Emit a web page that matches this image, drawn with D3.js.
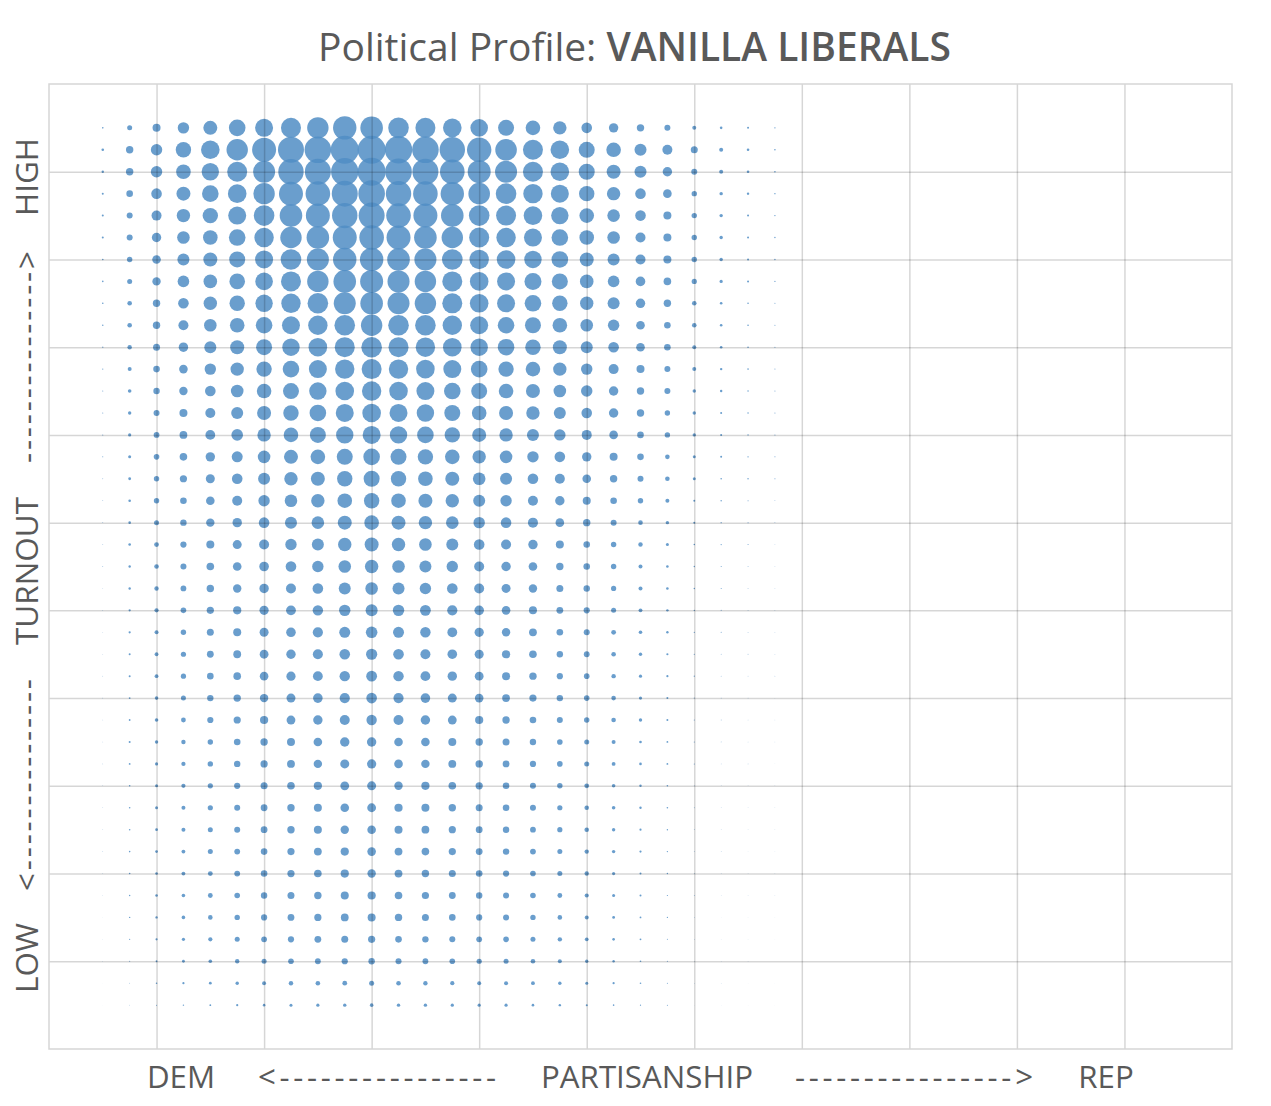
<!DOCTYPE html>
<html>
<head>
<meta charset="utf-8">
<script src="https://cdn.jsdelivr.net/npm/d3@7"></script>
<style>
  body { margin: 0; background: #fff; }
  text { font-family: "Open Sans", "Noto Sans", sans-serif; fill: #595959; }
</style>
</head>
<body>
<div id="chart"></div>
<script>
// ---- data ----
const titleLead = "Political Profile: ";
const titleSegment = "VANILLA LIBERALS";

const xAxisLabels = ["DEM", "<----------------", "PARTISANSHIP", "---------------->", "REP"];
const yAxisLabels = ["LOW", "<---------------", "TURNOUT", "--------------->", "HIGH"];

// partisanship bins, left (dem) to right (rep)
const partisanshipBins = [1, 2, 3, 4, 5, 6, 7, 8, 9, 10, 11, 12, 13, 14, 15, 16, 17, 18, 19, 20,
    21, 22, 23, 24, 25, 26, 27, 28, 29, 30, 31, 32, 33, 34, 35, 36, 37, 38, 39, 40, 41];
// turnout bins, top (high) to bottom (low)
const turnoutBins = [41, 40, 39, 38, 37, 36, 35, 34, 33, 32, 31, 30, 29, 28, 27, 26, 25, 24, 23, 22,
    21, 20, 19, 18, 17, 16, 15, 14, 13, 12, 11, 10, 9, 8, 7, 6, 5, 4, 3, 2, 1];
const gridBins = [3, 7, 11, 15, 19, 23, 27, 31, 35, 39];

// dot weight per cell, one row per turnout bin (top first), columns = partisanship bins 1..26
// (bins 27..41 are empty)
const density = [
    [8, 25, 40, 57, 70, 83, 90, 100, 107, 117, 113, 103, 100, 93, 88, 80, 73, 67, 53, 47, 37, 30, 20, 13, 10, 7],
    [13, 37, 57, 77, 93, 107, 120, 130, 133, 140, 140, 137, 133, 127, 122, 108, 100, 93, 80, 73, 60, 50, 35, 20, 13, 8],
    [12, 37, 57, 73, 87, 100, 110, 127, 130, 137, 140, 133, 130, 123, 115, 110, 100, 93, 80, 70, 60, 47, 30, 20, 13, 8],
    [10, 33, 53, 70, 83, 93, 107, 120, 123, 130, 133, 127, 123, 117, 108, 103, 97, 90, 77, 67, 53, 43, 27, 17, 12, 7],
    [10, 30, 50, 67, 77, 90, 103, 113, 120, 127, 130, 123, 120, 113, 103, 100, 93, 87, 73, 63, 53, 40, 27, 17, 10, 7],
    [10, 30, 47, 63, 73, 83, 97, 107, 113, 120, 123, 120, 113, 107, 100, 97, 90, 83, 73, 63, 50, 40, 27, 17, 10, 7],
    [8, 27, 43, 60, 70, 80, 90, 103, 110, 117, 117, 113, 110, 103, 97, 93, 87, 83, 70, 60, 50, 40, 27, 17, 10, 7],
    [8, 25, 42, 58, 68, 78, 88, 100, 107, 113, 115, 110, 107, 100, 93, 90, 85, 80, 68, 58, 48, 38, 26, 16, 10, 6],
    [8, 23, 37, 53, 67, 77, 87, 97, 103, 110, 113, 110, 107, 100, 93, 90, 83, 77, 67, 60, 47, 37, 23, 13, 8, 5],
    [7, 23, 37, 50, 63, 73, 83, 90, 97, 103, 107, 103, 103, 97, 90, 83, 80, 73, 63, 57, 43, 33, 23, 13, 8, 5],
    [6, 22, 35, 47, 60, 70, 80, 87, 93, 100, 103, 100, 97, 93, 87, 83, 77, 70, 60, 53, 43, 33, 20, 13, 8, 5],
    [6, 20, 33, 43, 57, 67, 77, 83, 90, 97, 100, 97, 93, 90, 83, 77, 73, 67, 57, 50, 40, 30, 20, 12, 8, 5],
    [5, 18, 32, 42, 53, 63, 73, 80, 87, 93, 97, 93, 90, 83, 80, 73, 70, 63, 57, 47, 37, 30, 17, 12, 7, 5],
    [5, 17, 30, 40, 50, 60, 70, 77, 83, 90, 93, 90, 87, 80, 73, 70, 67, 60, 53, 47, 37, 27, 17, 10, 7, 5],
    [5, 16, 29, 39, 49, 58, 67, 73, 80, 87, 90, 87, 83, 77, 70, 67, 60, 57, 50, 43, 33, 27, 17, 10, 7, 5],
    [5, 15, 28, 38, 47, 55, 63, 70, 73, 80, 83, 80, 77, 73, 67, 63, 57, 53, 47, 40, 33, 23, 15, 10, 7, 5],
    [4, 14, 27, 36, 45, 53, 60, 67, 70, 77, 80, 77, 73, 70, 63, 60, 53, 50, 43, 37, 30, 23, 15, 8, 7, 5],
    [4, 13, 27, 33, 43, 50, 57, 63, 67, 73, 77, 73, 70, 67, 60, 57, 50, 47, 40, 33, 27, 20, 10, 7, 5, 4],
    [4, 13, 25, 32, 42, 47, 53, 60, 63, 70, 73, 70, 67, 63, 57, 53, 50, 43, 37, 30, 23, 17, 10, 6, 5, 4],
    [4, 13, 24, 31, 40, 45, 50, 57, 60, 67, 70, 67, 63, 60, 53, 50, 47, 40, 33, 27, 22, 15, 8, 6, 5, 3],
    [4, 12, 23, 30, 38, 43, 48, 53, 57, 63, 67, 63, 60, 57, 50, 47, 43, 37, 33, 27, 20, 13, 7, 5, 4, 3],
    [3, 12, 22, 29, 37, 42, 47, 50, 53, 60, 63, 60, 57, 53, 50, 45, 42, 35, 32, 26, 20, 13, 7, 5, 4, 3],
    [3, 11, 21, 28, 36, 41, 46, 49, 52, 57, 60, 57, 54, 51, 48, 43, 40, 34, 31, 25, 19, 12, 7, 5, 4, 3],
    [3, 11, 20, 27, 35, 40, 45, 48, 51, 55, 58, 55, 52, 49, 46, 42, 39, 33, 30, 24, 18, 12, 6, 5, 4, 3],
    [3, 10, 19, 26, 34, 39, 44, 47, 50, 53, 56, 53, 50, 48, 45, 41, 38, 32, 29, 23, 17, 11, 6, 4, 4, 3],
    [3, 10, 19, 26, 33, 38, 43, 46, 49, 52, 54, 52, 49, 47, 44, 40, 37, 31, 28, 22, 16, 11, 6, 4, 3, 3],
    [3, 9, 18, 25, 32, 37, 42, 45, 48, 51, 53, 51, 48, 45, 43, 39, 36, 32, 28, 23, 16, 10, 5, 4, 3, 2],
    [3, 9, 18, 24, 31, 36, 41, 44, 47, 50, 52, 50, 47, 44, 41, 37, 33, 30, 27, 23, 17, 10, 5, 4, 3, 2],
    [3, 10, 17, 22, 27, 33, 37, 40, 43, 47, 47, 43, 43, 40, 37, 35, 32, 28, 25, 20, 13, 9, 5, 4, 3, 2],
    [3, 9, 16, 21, 27, 32, 36, 39, 42, 45, 46, 43, 42, 39, 37, 34, 31, 28, 25, 19, 13, 9, 5, 3, 3, 2],
    [3, 8, 15, 21, 26, 31, 35, 38, 41, 44, 45, 42, 41, 38, 36, 33, 30, 27, 24, 18, 12, 8, 4, 3, 2, 2],
    [3, 8, 15, 20, 26, 30, 34, 37, 40, 43, 44, 41, 40, 37, 35, 33, 30, 26, 23, 18, 12, 8, 4, 3, 2, 2],
    [3, 8, 14, 20, 25, 30, 34, 37, 40, 42, 43, 40, 39, 36, 34, 32, 29, 26, 23, 17, 11, 7, 4, 3, 2, 2],
    [3, 8, 14, 19, 25, 29, 33, 36, 39, 41, 43, 39, 38, 36, 34, 32, 29, 25, 22, 17, 11, 7, 4, 3, 2, 2],
    [3, 8, 13, 19, 24, 29, 33, 36, 38, 41, 42, 39, 37, 35, 33, 31, 28, 25, 22, 16, 10, 7, 4, 3, 2, 2],
    [2, 7, 13, 18, 24, 28, 32, 35, 37, 40, 41, 38, 36, 34, 32, 30, 28, 24, 21, 15, 10, 6, 4, 2, 2, 2],
    [2, 7, 12, 18, 23, 27, 31, 34, 36, 39, 40, 37, 35, 33, 31, 30, 27, 23, 20, 14, 9, 6, 3, 2, 2, 2],
    [2, 6, 11, 16, 21, 25, 29, 31, 34, 35, 36, 33, 32, 30, 29, 28, 25, 22, 19, 13, 9, 5, 3, 2, 2, 1],
    [2, 5, 9, 14, 18, 22, 25, 28, 29, 31, 32, 30, 29, 28, 26, 25, 23, 20, 17, 12, 8, 5, 3, 2, 2, 1],
    [1, 4, 8, 11, 14, 17, 20, 22, 23, 24, 25, 23, 22, 21, 20, 20, 19, 17, 15, 11, 8, 5, 3, 2, 1, 1],
    [1, 3, 5, 7, 9, 11, 13, 15, 16, 17, 18, 17, 17, 16, 16, 16, 13, 12, 10, 8, 6, 5, 2, 2, 1, 1]
];

// ---- chart ----
const width = 1271,
    height = 1106,
    plot = { left: 49, right: 1232, top: 84, bottom: 1049 };

const svg = d3.select("#chart")
    .append("svg")
    .attr("width", width)
    .attr("height", height);

const x = d3.scaleLinear().domain([-1, 43]).range([plot.left, plot.right]);
const y = d3.scaleLinear().domain([-1, 43]).range([plot.bottom, plot.top]);
const r = d3.scaleLinear().domain([0, 140]).range([0, 14]);

const cells = [];
density.forEach((row, ri) => {
    row.forEach((v, ci) => {
        if (v > 0) cells.push({ p: partisanshipBins[ci], t: turnoutBins[ri], v: v });
    });
});

// dots
svg.append("g")
    .selectAll("circle")
    .data(cells)
    .enter()
    .append("circle")
    .attr("cx", d => x(d.p))
    .attr("cy", d => y(d.t))
    .attr("r", d => r(d.v))
    .attr("fill", "#508dc4")
    .attr("fill-opacity", 0.85);

// grid on top of the dots
const gridH = plot.bottom - plot.top,
    gridW = plot.right - plot.left;

const xGrid = svg.append("g")
    .attr("transform", "translate(0," + plot.bottom + ")")
    .call(d3.axisBottom(x).tickValues(gridBins).tickSize(-gridH).tickFormat(""));

const yGrid = svg.append("g")
    .attr("transform", "translate(" + plot.left + ",0)")
    .call(d3.axisLeft(y).tickValues(gridBins).tickSize(-gridW).tickFormat(""));

[xGrid, yGrid].forEach(g => {
    g.select(".domain").remove();
    g.selectAll("line")
        .attr("stroke", "#000")
        .attr("stroke-opacity", 0.16)
        .attr("stroke-width", 1.5);
});

svg.append("rect")
    .attr("x", plot.left)
    .attr("y", plot.top)
    .attr("width", gridW)
    .attr("height", gridH)
    .attr("fill", "none")
    .attr("stroke", "#d6d6d6")
    .attr("stroke-width", 1.5);

// title
const title = svg.append("text")
    .attr("x", 634.5)
    .attr("y", 61)
    .attr("text-anchor", "middle")
    .style("font-size", "30px");
title.append("tspan").text(titleLead);
title.append("tspan").attr("font-weight", 600).text(titleSegment);
let tw = title.node().getComputedTextLength();
title.style("font-size", (30 * 633 / tw) + "px");

// bottom axis title pieces
const xLabelPos = [181, 377, 647, 914, 1106];
const xLabels = svg.append("g")
    .selectAll("text")
    .data(xAxisLabels)
    .enter()
    .append("text")
    .attr("x", (d, i) => xLabelPos[i])
    .attr("y", 1088)
    .attr("text-anchor", "middle")
    .style("font-size", "26px")
    .text(d => d);
let pw = xLabels.filter((d, i) => i === 2).node().getComputedTextLength();
xLabels.style("font-size", (26 * 212 / pw) + "px");
xLabels.filter((d, i) => i === 1 || i === 3)
    .attr("textLength", 238)
    .attr("lengthAdjust", "spacing");

// left axis title pieces
const yLabelPos = [958, 785, 571, 357, 177];
const yLabels = svg.append("g")
    .selectAll("text")
    .data(yAxisLabels)
    .enter()
    .append("text")
    .attr("transform", (d, i) => "translate(38," + yLabelPos[i] + ") rotate(-90)")
    .attr("text-anchor", "middle")
    .style("font-size", "26px")
    .text(d => d);
let vw = yLabels.filter((d, i) => i === 2).node().getComputedTextLength();
yLabels.style("font-size", (26 * 148 / vw) + "px");
yLabels.filter((d, i) => i === 1 || i === 3)
    .attr("textLength", 212)
    .attr("lengthAdjust", "spacing");
</script>
</body>
</html>
